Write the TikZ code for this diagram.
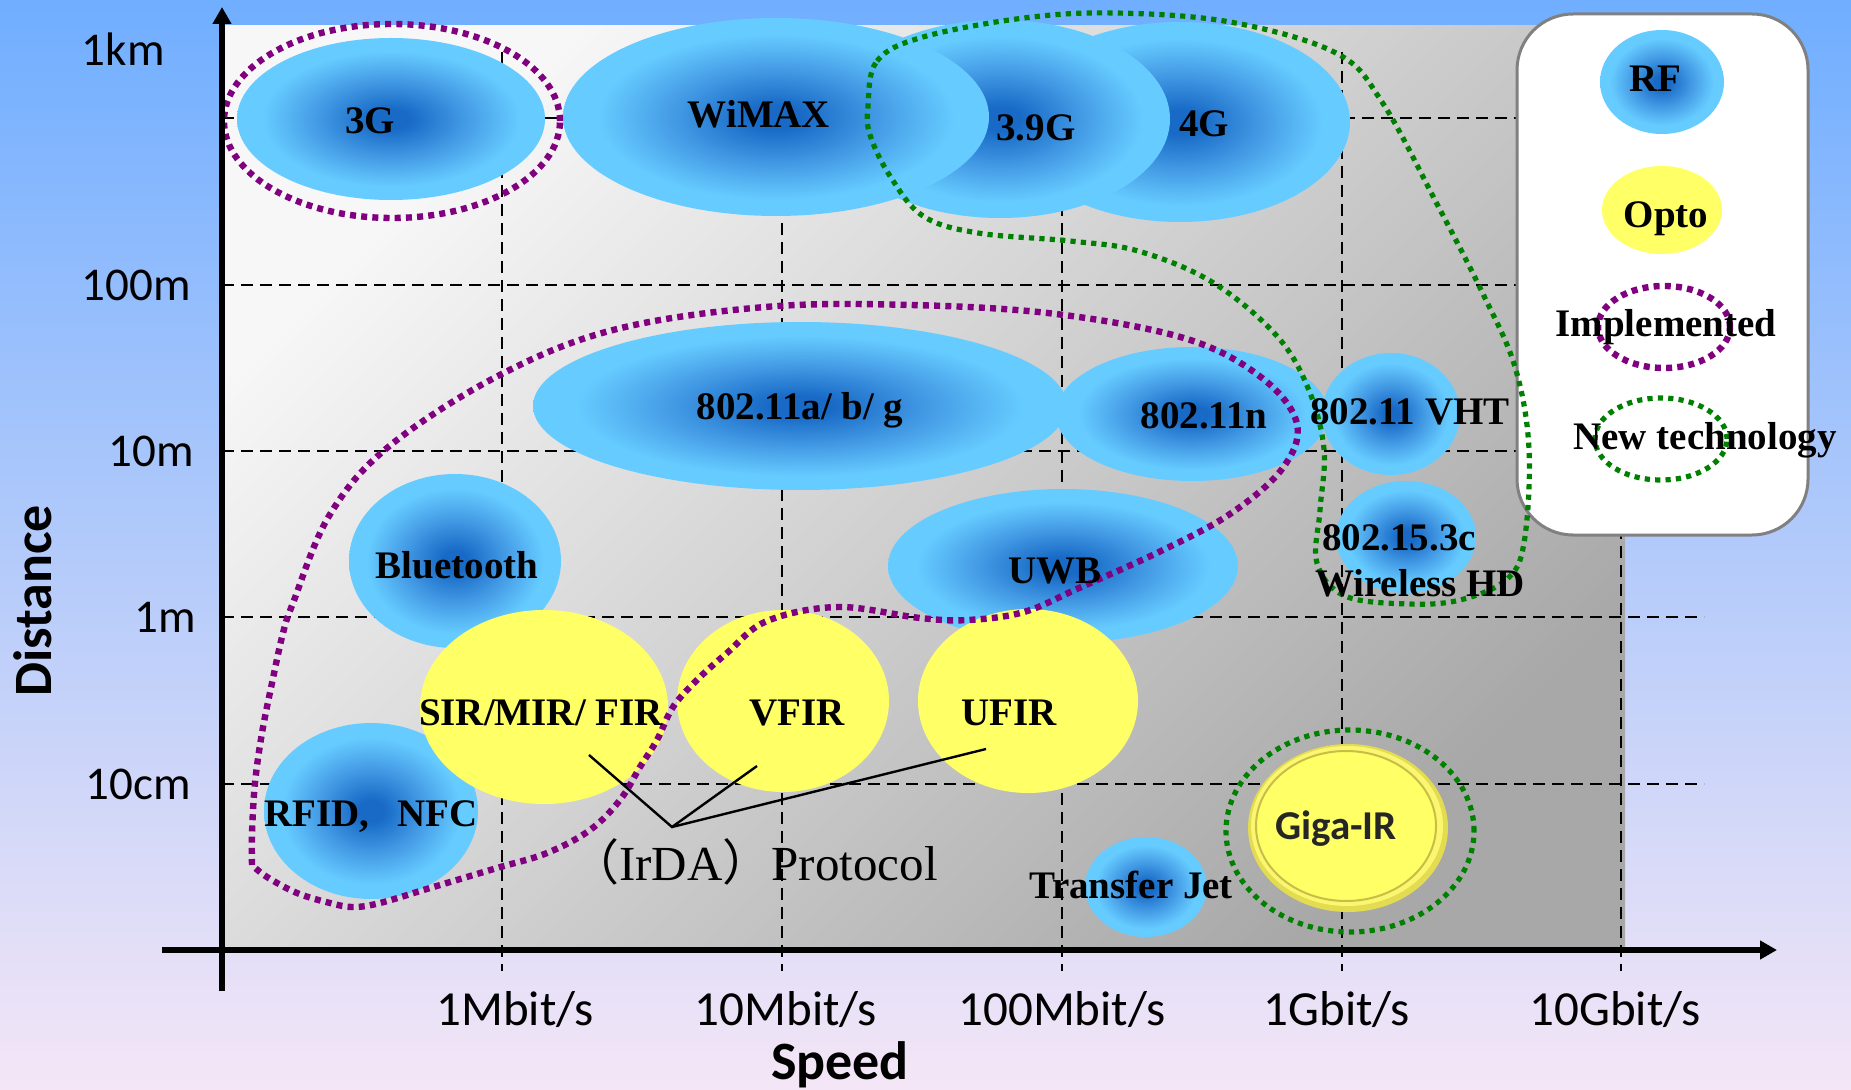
\documentclass[tikz,border=0pt]{standalone}
\usepackage{xcolor}
\usepackage{fontspec}
\setmainfont{Liberation Serif}
\newfontfamily\carlito{Carlito}
\newfontfamily\cjk{Noto Sans CJK SC}
\usetikzlibrary{shapes.geometric,arrows.meta}

\definecolor{rfdark}{RGB}{24,106,198}
\definecolor{rfmid}{RGB}{72,160,232}
\definecolor{rflight}{RGB}{102,204,255}
\definecolor{optoyellow}{RGB}{255,255,102}
\definecolor{implpurple}{RGB}{128,0,128}
\definecolor{newgreen}{RGB}{0,128,0}
\definecolor{skyblue}{RGB}{112,174,255}
\definecolor{lavender}{RGB}{244,230,246}
\definecolor{gigarim}{RGB}{228,220,80}
\definecolor{gigaring}{RGB}{200,190,70}

\pgfdeclareradialshading{rfshade}{\pgfpoint{0bp}{0bp}}{color(0bp)=(rfdark); color(3bp)=(rfdark); color(13bp)=(rfmid); color(21bp)=(rflight); color(25bp)=(rflight); color(50bp)=(rflight)}

\begin{document}
\begin{tikzpicture}[x=0.5pt,y=0.5pt,yscale=-1,xscale=1,
    rf/.style={ellipse, shade, shading=rfshade, inner sep=0pt},
    opto/.style={ellipse, fill=optoyellow, inner sep=0pt},
    impl/.style={draw=implpurple, line width=3.2pt, dash pattern=on 3pt off 2.6pt},
    newtech/.style={draw=newgreen, line width=2.6pt, dash pattern=on 2.6pt off 2.6pt},
    gridline/.style={line width=1pt, dash pattern=on 6pt off 3.5pt},
    lbl/.style={inner sep=0pt, text height=13pt, text depth=0pt, font=\fontsize{19.5}{22}\selectfont\bfseries},
    ticklbl/.style={inner sep=0pt, font=\carlito\fontsize{23.5}{27}\selectfont},
    speedlbl/.style={inner sep=0pt, font=\carlito\fontsize{24.5}{28}\selectfont},
    axislbl/.style={inner sep=0pt, font=\carlito\bfseries\fontsize{27}{30}\selectfont}]
            \useasboundingbox (0,0) rectangle (1851,1090);

            %Background
            \shade [top color=skyblue, bottom color=lavender] (0,0) rectangle (1851,1090);
            %Plot area
            \shade [top color=black!3, bottom color=black!34, shading angle=45] (222,26) rectangle (1625,950);

            %Grid Lines
            \foreach \y in {118,285,451,617,784}
                \draw [gridline] (222,\y) -- (1704,\y);
            \foreach \x in {502,782,1062,1342,1621}
                \draw [gridline] (\x,52) -- (\x,971);

            %Shape: Ellipse [RF]
            \node [rf, minimum width=154pt, minimum height=81pt] (g3) at (391,119) {};
            \node [rf, minimum width=170pt, minimum height=100pt] (g4) at (1180,122) {};
            \node [rf, minimum width=170pt, minimum height=99pt] (g39) at (1000,119) {};
            \node [rf, minimum width=213pt, minimum height=99pt] (wimax) at (776,117) {};
            \node [rf, minimum width=267pt, minimum height=84pt] (wlanabg) at (800,406) {};
            \node [rf, minimum width=136pt, minimum height=67pt] (wlann) at (1192,414) {};
            \node [rf, minimum width=69pt, minimum height=61pt] (wlanvht) at (1391,414) {};
            \node [rf, minimum width=70pt, minimum height=56pt] (wpan) at (1406,537) {};
            \node [rf, minimum width=106pt, minimum height=87pt] (bluetooth) at (455,561) {};
            \node [rf, minimum width=175pt, minimum height=77pt] (uwb) at (1063,566) {};
            \node [rf, minimum width=107pt, minimum height=88pt] (rfid) at (371,811) {};
            \node [rf, minimum width=61pt, minimum height=50pt] (transferjet) at (1146,887) {};

            %Shape: Ellipse [Opto]
            \node [opto, minimum width=124pt, minimum height=97pt] (sir) at (544,707) {};
            \node [opto, minimum width=106pt, minimum height=91pt] (vfir) at (783,701) {};
            \node [opto, minimum width=110pt, minimum height=92pt] (ufir) at (1028,701) {};
            \node [ellipse, fill=gigarim, inner sep=0pt, minimum width=100pt, minimum height=84pt] (gigair) at (1348,828) {};
            \node [ellipse, fill={rgb,255:red,250;green,246;blue,112}, inner sep=0pt, minimum width=96pt, minimum height=80pt] (gigairtop) at (1347,826) {};
            \node [opto, draw=gigaring, line width=1pt, minimum width=90pt, minimum height=75pt] (gigairin) at (1346,826) {};

            %Legend
            \draw [draw={rgb,255:red,128;green,128;blue,128}, line width=1.5pt, fill=white, rounded corners=28pt] (1517,14) rectangle (1808,535);
            \node [rf, minimum width=62pt, minimum height=52pt] (legrf) at (1662,82) {};
            \node [opto, minimum width=60pt, minimum height=44pt] (legopto) at (1662,210) {};
            \node [ellipse, impl, inner sep=0pt, minimum width=66pt, minimum height=41pt] (legimpl) at (1664,327) {};
            \node [ellipse, newtech, inner sep=0pt, minimum width=66pt, minimum height=41pt] (legnew) at (1661,439) {};

            %Curve Lines [Implemented]
            \node [ellipse, impl, inner sep=0pt, minimum width=168pt, minimum height=97pt] (g3ring) at (392,121) {};
            \draw [impl] plot [smooth, tension=0.6] coordinates {(252,865) (252,833) (255,783) (262,733) (272,683) (283,633) (293,603) (329,516) (387,448) (496,377) (613,330) (765,307) (911,305) (1056,314) (1187,339) (1262,378) (1297,424) (1282,469) (1230,514) (1161,551) (1079,588) (1024,612) (968,620) (920,618) (838,607) (767,621) (727,653) (697,680) (673,707) (657,740) (640,767) (620,800) (590,830) (547,853) (497,868) (430,888) (380,903) (353,907) (330,903) (297,893) (267,877) (252,865)};
            %Curve Lines [New technology]
            \node [ellipse, newtech, inner sep=0pt, minimum width=124pt, minimum height=101pt] (gigaring) at (1350,831) {};
            \draw [newtech] plot [smooth cycle, tension=0.6] coordinates {(868,106) (877,61) (923,37) (1024,18) (1115,13) (1230,22) (1336,53) (1382,102) (1437,204) (1483,294) (1515,367) (1529,449) (1524,543) (1506,580) (1460,600) (1409,604) (1345,596) (1317,563) (1320,510) (1324,449) (1308,388) (1276,335) (1212,282) (1138,251) (1070,241) (978,233) (923,216) (890,176) (870,135)};

            %Straight Lines [IrDA]
            \coordinate (irdaapex) at (672,827);
            \coordinate (sirend) at (589,755);
            \coordinate (vfirend) at (757,766);
            \coordinate (ufirend) at (986,749);
            \draw [line width=1.2pt] (sirend) -- (irdaapex) -- (vfirend) ;
            \draw [line width=1.2pt] (irdaapex) -- (ufirend) ;

            % Text Node
            \node [lbl] (g3lbl) at (370,121) {3G};
            \node [lbl] (wimaxlbl) at (759,115) {WiMAX};
            \node [lbl] (g39lbl) at (1036,128) {3.9G};
            \node [lbl] (g4lbl) at (1204,124) {4G};
            \node [lbl] (wlanabglbl) at (800,407) {802.11a/ b/ g};
            \node [lbl] (wlannlbl) at (1204,416) {802.11n};
            \node [lbl] (wlanvhtlbl) at (1410,412) {802.11 VHT};
            \node [lbl] (wpanlbl) at (1399,538) {802.15.3c};
            \node [lbl] (whdlbl) at (1420,583) {Wireless HD};
            \node [lbl] (bluetoothlbl) at (457,565) {Bluetooth};
            \node [lbl] (uwblbl) at (1055,570) {UWB};
            \node [lbl] (rfidlbl) at (371,813) {RFID,\hspace{14pt}NFC};
            \node [lbl] (transferjetlbl) at (1131,885) {Transfer Jet};
            \node [lbl] (sirlbl) at (541,712) {SIR/MIR/ FIR};
            \node [lbl] (vfirlbl) at (797,712) {VFIR};
            \node [lbl] (ufirlbl) at (1009,712) {UFIR};
            \node [inner sep=0pt, text height=13pt, text depth=0pt, text={rgb,255:red,38;green,38;blue,38}, font=\carlito\bfseries\fontsize{20.5}{24}\selectfont] (gigairlbl) at (1336,826) {Giga-IR};
            \node [inner sep=0pt, anchor=base east, font=\fontsize{24.5}{28}\selectfont] (irdalbl) at (938,880) {{\cjk （}IrDA{\cjk ）}Protocol};
            % Text Node [Legend]
            \node [lbl] (legrflbl) at (1655,79) {RF};
            \node [lbl] (legoptolbl) at (1666,215) {Opto};
            \node [lbl] (legimpllbl) at (1666,324) {Implemented};
            \node [lbl] (legnewlbl) at (1705,437) {New technology};

            %Axes
            \coordinate (yaxbot) at (222,991);
            \coordinate (yaxtop) at (222,7);
            \coordinate (xaxleft) at (162,950);
            \coordinate (xaxright) at (1777,950);
            \draw [line width=2.6pt, -{Triangle[length=8.5pt,width=9pt]}] (yaxbot) -- (yaxtop) ;
            \draw [line width=2.8pt, -{Triangle[length=8.5pt,width=9pt]}] (xaxleft) -- (xaxright) ;

            % Text Node [Ticks]
            \node [ticklbl, anchor=east] (t1km) at (165,49) {1km};
            \node [ticklbl, anchor=east] (t100m) at (191,285) {100m};
            \node [ticklbl, anchor=east] (t10m) at (194,451) {10m};
            \node [ticklbl, anchor=east] (t1m) at (196,617) {1m};
            \node [ticklbl, anchor=east] (t10cm) at (191,784) {10cm};
            \node [speedlbl] (t1mb) at (515,1010) {1Mbit/s};
            \node [speedlbl] (t10mb) at (786,1010) {10Mbit/s};
            \node [speedlbl] (t100mb) at (1062,1010) {100Mbit/s};
            \node [speedlbl] (t1gb) at (1337,1010) {1Gbit/s};
            \node [speedlbl] (t10gb) at (1615,1010) {10Gbit/s};
            \node [axislbl, anchor=base] (speedaxis) at (840,1079) {Speed};
            \node [axislbl, rotate=90] (distanceaxis) at (33,601) {Distance};

\end{tikzpicture}
\end{document}
